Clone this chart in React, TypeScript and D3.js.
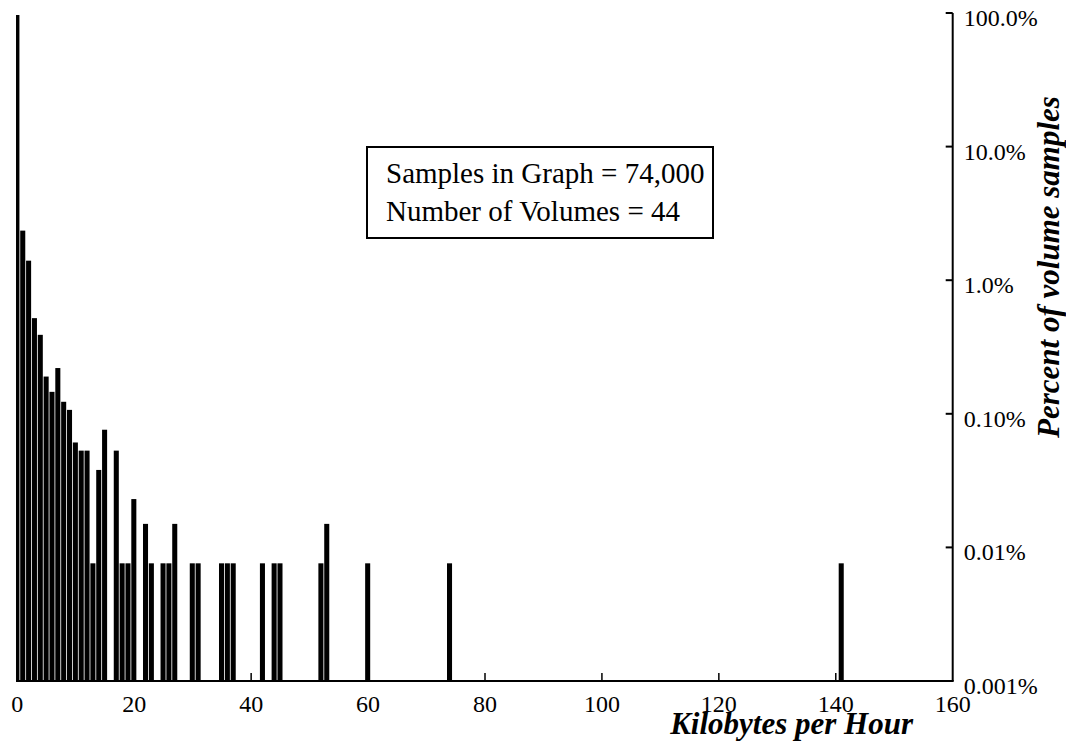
import React, { useRef, useEffect } from "react";
import * as d3 from "d3";

// bins (kilobytes per hour) and share of samples in each bin (%)
const kbPerHour = [
  0, 1, 2, 3, 4, 5, 6, 7, 8, 9, 10, 11, 12, 13, 14, 15, 17, 18, 19, 20, 22, 23, 25, 26, 27, 30, 31, 35,
  36, 37, 42, 44, 45, 52, 53, 60, 74, 141,
];
const percentOfSamples = [
  96.6, 2.35, 1.4, 0.52, 0.39, 0.19, 0.146, 0.22, 0.123, 0.107, 0.061, 0.053, 0.053, 0.0076, 0.038, 0.076,
  0.053, 0.0076, 0.0076, 0.023, 0.015, 0.0076, 0.0076, 0.0076, 0.015, 0.0076, 0.0076, 0.0076, 0.0076,
  0.0076, 0.0076, 0.0076, 0.0076, 0.0076, 0.015, 0.0076, 0.0076, 0.0076,
];

const xTicks = [0, 20, 40, 60, 80, 100, 120, 140, 160];
const yTicks = [100, 10, 1, 0.1, 0.01, 0.001];
const yTickLabels = ["100.0%", "10.0%", "1.0%", "0.10%", "0.01%", "0.001%"];
const noteLines = ["Samples in Graph = 74,000", "Number of Volumes = 44"];

const FONT = "'Liberation Serif', 'Times New Roman', serif";

const App = () => {
  const chartRef = useRef<SVGSVGElement>(null);

  useEffect(() => {
    const data = kbPerHour.map((k, i) => ({ k, pct: percentOfSamples[i] }));
    const svg = d3.select(chartRef.current);
    svg.selectAll("*").remove();

    const x = d3.scaleLinear().domain([0, 160]).range([17.3, 952.7]);
    const y = d3.scaleLog().domain([0.001, 100]).range([681, 13]);
    const step = x(1) - x(0);
    const left = x(-0.22);

    // bars
    svg
      .append("g")
      .selectAll("rect")
      .data(data)
      .enter()
      .append("rect")
      .attr("x", (d) => Math.max(left, x(d.k - 0.5)))
      .attr("width", (d) => x(d.k - 0.5) + step - 0.8 - Math.max(left, x(d.k - 0.5)))
      .attr("y", (d) => y(d.pct))
      .attr("height", (d) => y(0.001) - y(d.pct))
      .attr("fill", "#000");

    // x axis
    const xAxis = svg.append("g").attr("transform", `translate(0,${y(0.001)})`);
    xAxis
      .append("line")
      .attr("x1", left)
      .attr("x2", x(160) + 1)
      .attr("stroke", "#000")
      .attr("stroke-width", 2);
    xAxis
      .selectAll("line.tick")
      .data(xTicks.filter((t) => t > 0 && t < 160))
      .enter()
      .append("line")
      .attr("class", "tick")
      .attr("x1", (d) => x(d))
      .attr("x2", (d) => x(d))
      .attr("y1", 0)
      .attr("y2", -8)
      .attr("stroke", "#000")
      .attr("stroke-width", 1.5);
    xAxis
      .selectAll("text")
      .data(xTicks)
      .enter()
      .append("text")
      .attr("x", (d) => x(d))
      .attr("y", 31)
      .attr("text-anchor", "middle")
      .style("font-family", FONT)
      .style("font-size", "24px")
      .text((d) => d);

    // right y axis
    const yAxis = svg.append("g").attr("transform", `translate(${x(160)},0)`);
    yAxis
      .append("line")
      .attr("y1", y(100))
      .attr("y2", y(0.001))
      .attr("stroke", "#000")
      .attr("stroke-width", 2);
    yAxis
      .selectAll("line.tick")
      .data(yTicks)
      .enter()
      .append("line")
      .attr("class", "tick")
      .attr("x1", 0)
      .attr("x2", -7)
      .attr("y1", (d) => y(d))
      .attr("y2", (d) => y(d))
      .attr("stroke", "#000")
      .attr("stroke-width", 2);
    yAxis
      .selectAll("text")
      .data(yTicks)
      .enter()
      .append("text")
      .attr("x", 11)
      .attr("y", (d) => y(d) + 13)
      .style("font-family", FONT)
      .style("font-size", "24px")
      .text((d, i) => yTickLabels[i]);

    // axis titles
    svg
      .append("text")
      .attr("x", 913)
      .attr("y", 734)
      .attr("text-anchor", "end")
      .style("font-family", FONT)
      .style("font-size", "31px")
      .style("font-weight", "bold")
      .style("font-style", "italic")
      .text("Kilobytes per Hour");
    svg
      .append("text")
      .attr("transform", "translate(1059,267) rotate(-90)")
      .attr("text-anchor", "middle")
      .style("font-family", FONT)
      .style("font-size", "31px")
      .style("font-weight", "bold")
      .style("font-style", "italic")
      .text("Percent of volume samples");

    // note box
    const note = svg.append("g");
    note
      .append("rect")
      .attr("x", 367)
      .attr("y", 147)
      .attr("width", 346)
      .attr("height", 91)
      .attr("fill", "#fff")
      .attr("stroke", "#000")
      .attr("stroke-width", 2);
    note
      .selectAll("text")
      .data(noteLines)
      .enter()
      .append("text")
      .attr("x", 386)
      .attr("y", (d, i) => 183 + i * 38)
      .style("font-family", FONT)
      .style("font-size", "29px")
      .text((d) => d);
  }, []);

  return (
    <svg
      ref={chartRef}
      width={1066}
      height={744}
      style={{ position: "absolute", left: 0, top: 0, background: "#fff" }}
    />
  );
};

export default App;
